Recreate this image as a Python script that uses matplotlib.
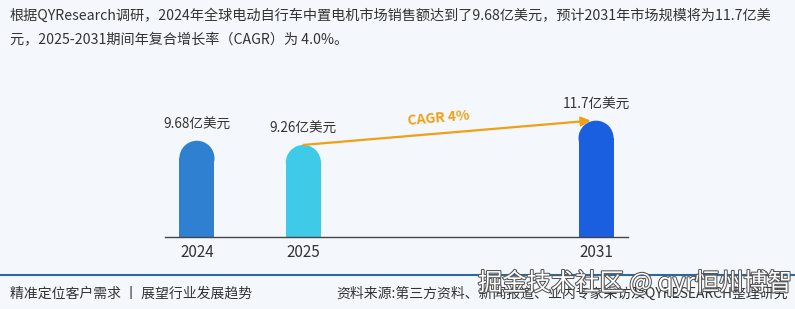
import matplotlib
matplotlib.use('Agg')
import matplotlib.pyplot as plt
from matplotlib.patches import Rectangle, Ellipse
from matplotlib import patheffects as pe

plt.rcParams['font.family'] = ['Noto Sans CJK SC', 'DejaVu Sans']

# data
years = ['2024', '2025', '2031']
values = [9.68, 9.26, 11.7]
labels = ['9.68亿美元', '9.26亿美元', '11.7亿美元']
cagr_text = 'CAGR 4%'

# layout
xpos = [0, 1, 3.75]
colors = ['#2f80d1', '#3fcbe8', '#1a5fdf']
bar_w = 0.33

title = ('根据QYResearch调研，2024年全球电动自行车中置电机市场销售额达到了9.68亿美元，预计2031年市场规模将为11.7亿美\n'
         '元，2025-2031期间年复合增长率（CAGR）为 4.0%。')
footer_left = '精准定位客户需求 丨 展望行业发展趋势'
footer_right = '资料来源:第三方资料、新闻报道、业内专家采访及QYRESEARCH整理研究'

fig = plt.figure(figsize=(7.95, 3.09), dpi=100)
fig.patch.set_facecolor('#f4f8fd')

# axes: x 165..628 px, baseline at y=237 px
W, H = 795, 309
ax = fig.add_axes([165 / W, (H - 237) / H, (628 - 165) / W, (237 - 60) / H])
ax.set_facecolor('none')
ax.set_xlim(-0.3, 4.05)
ax.set_ylim(0, 17.8)

# pixel scale for round caps
px_x = (628 - 165) / 4.35
px_y = (237 - 60) / 17.8
r_px = bar_w * px_x / 2
r_y = r_px / px_y

for x, v, c, lab in zip(xpos, values, colors, labels):
    ax.add_patch(Rectangle((x - bar_w / 2, 0), bar_w, v - r_y, color=c, lw=0))
    ax.add_patch(Ellipse((x, v - r_y), bar_w, 2 * r_y, color=c, lw=0))
    ax.text(x, v + 0.9, lab, ha='center', va='bottom', fontsize=9.8, color='#333333')

# CAGR arrow from 2025 to 2031
ax.annotate('', xy=(xpos[2] - 0.05, values[2]), xytext=(xpos[1], values[1]),
            arrowprops=dict(arrowstyle='-|>', color='#f0a012', lw=1.6,
                            mutation_scale=14, shrinkA=0, shrinkB=0))
ax.text((xpos[1] + xpos[2]) / 2 - 0.1, (values[1] + values[2]) / 2 + 0.45, cagr_text,
        ha='center', va='bottom', fontsize=10, fontweight='bold', color='#f0a012',
        rotation=5)

ax.set_xticks(xpos)
ax.set_xticklabels(years, fontsize=11, color='#333333')
ax.tick_params(axis='x', length=0, pad=5)
ax.set_yticks([])
for s in ['top', 'right', 'left']:
    ax.spines[s].set_visible(False)
ax.spines['bottom'].set_color('#444444')
ax.spines['bottom'].set_linewidth(1)

# title
fig.text(10 / W, 1 - 8 / H, title, ha='left', va='top', fontsize=10.2,
         color='#333333', linespacing=1.95)

# footer
fig.add_artist(plt.Line2D([0, 1], [1 - 275 / H] * 2, color='#2b6a9a', lw=1.5))
fig.text(10 / W, 1 - 294 / H, footer_left, ha='left', va='center', fontsize=10, color='#333333')
fig.text(788 / W, 1 - 294 / H, footer_right, ha='right', va='center', fontsize=10, color='#333333')

# site watermark (overlaps the source line, as in the reference)
fig.text(478 / W, 1 - 283 / H, '掘金技术社区 @ qyr恒州博智', ha='left', va='center',
         fontsize=17.5, color='white',
         path_effects=[pe.withStroke(linewidth=1.5, foreground='#555555')])

fig.savefig('out.png', dpi=100, facecolor=fig.get_facecolor())
